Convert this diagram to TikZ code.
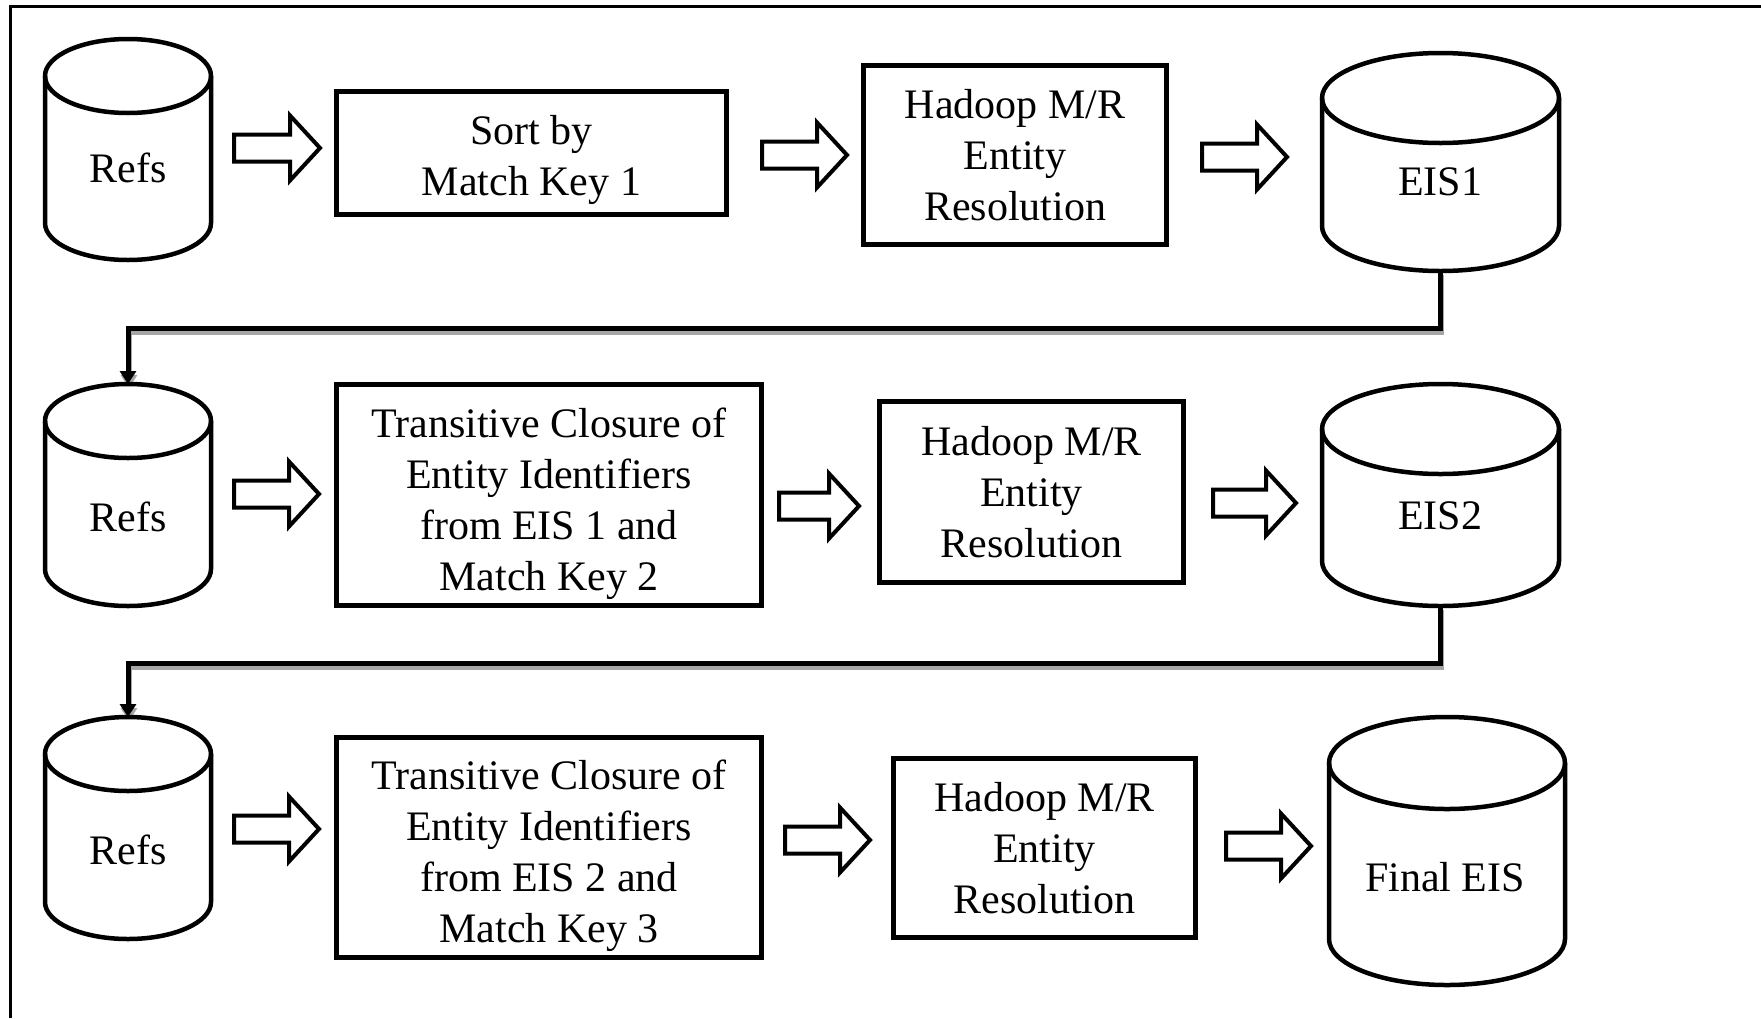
\documentclass[tikz,border=0pt]{standalone}
\usepackage{fontspec}
\setmainfont{Liberation Serif}
\usetikzlibrary{calc,arrows.meta}

% cylinder outline around a (text-less) node: node name, x radius, y radius
\newcommand\drawcyl[3]{%
  \draw[cylline]
    ($(#1.north west)+(0pt,-#3pt)$) -- ($(#1.south west)+(0pt,#3pt)$)
    arc[start angle=180,end angle=360,x radius=#2pt,y radius=#3pt]
    -- ($(#1.north east)+(0pt,-#3pt)$)
    arc[start angle=0,end angle=180,x radius=#2pt,y radius=#3pt] -- cycle;
  \draw[cylline,fill=none] ($(#1.north west)+(0pt,-#3pt)$)
    arc[start angle=180,end angle=360,x radius=#2pt,y radius=#3pt];
}

% hollow block arrow: tail x, tip x, centre y
\newcommand\blockarrow[3]{%
  \draw[fatarrow] (#1,{#3-13.5}) -- ({#2-30},{#3-13.5}) -- ({#2-30},{#3-32.5})
    -- (#2,#3) -- ({#2-30},{#3+32.5}) -- ({#2-30},{#3+13.5}) -- (#1,{#3+13.5}) -- cycle;
}

\begin{document}
\begin{tikzpicture}[x=1pt,y=1pt,
  txt/.style={font=\fontsize{42}{51}\selectfont},
  procbox/.style={draw,line width=5pt,fill=white,inner sep=0pt,align=center,txt},
  boxtext/.style={txt,align=center,inner sep=0pt},
  cylbody/.style={inner sep=0pt,outer sep=0pt},
  cylline/.style={draw,line width=4.5pt,fill=white,line join=round},
  cyltext/.style={txt,inner sep=0pt},
  fatarrow/.style={draw,line width=4pt,fill=white,line join=miter},
  link/.style={line width=5pt,-{Triangle[width=16pt,length=13pt]}},
  linkshadow/.style={link,draw=black!35},
  frameline/.style={line width=2.5pt}
]
\useasboundingbox (0,0) rectangle (1761,-1018);

% outer frame (top and left edges)
\draw[frameline] (1761,-6.5) -- (10.5,-6.5) -- (10.5,-1018);

% storage nodes
\node[cylbody,minimum width=166,minimum height=221] (r1) at (128,-149.5) {};
\node[cylbody,minimum width=166,minimum height=222] (r2) at (128,-495) {};
\node[cylbody,minimum width=166,minimum height=222] (r3) at (128,-828) {};
\node[cylbody,minimum width=237,minimum height=218] (e1) at (1440.5,-162) {};
\node[cylbody,minimum width=237,minimum height=222] (e2) at (1440.5,-495) {};
\node[cylbody,minimum width=236,minimum height=268] (e3) at (1447,-851) {};

% row-to-row links
\coordinate (k1) at (0,-328.5);
\coordinate (k2) at (0,-663);
\begin{scope}[transform canvas={xshift=1pt,yshift=-4pt}]
  \draw[linkshadow] (e1.south) -- (e1.south |- k1) -- (r2.north |- k1) -- (r2.north);
  \draw[linkshadow] (e2.south) -- (e2.south |- k2) -- (r3.north |- k2) -- (r3.north);
\end{scope}
\draw[link] (e1.south) -- (e1.south |- k1) -- (r2.north |- k1) -- (r2.north);
\draw[link] (e2.south) -- (e2.south |- k2) -- (r3.north |- k2) -- (r3.north);

% cylinders
\drawcyl{r1}{83}{37}
\drawcyl{r2}{83}{37}
\drawcyl{r3}{83}{37}
\drawcyl{e1}{118.5}{45}
\drawcyl{e2}{118.5}{45}
\drawcyl{e3}{118}{46}

\node[cyltext] (r1t) at (128,-168) {Refs};
\node[cyltext] (r2t) at (128,-517) {Refs};
\node[cyltext] (r3t) at (128,-850) {Refs};
\node[cyltext] (e1t) at (1440,-182) {EIS1};
\node[cyltext] (e2t) at (1440,-516) {EIS2};
\node[cyltext] (e3t) at (1445,-877) {Final EIS};

% process boxes
\node[procbox,minimum width=390,minimum height=123] (b1) at (531.5,-153) {};
\node[boxtext] (b1t) at ([yshift=-7pt]b1.center) {Sort by\\Match Key 1};
\node[procbox,minimum width=303,minimum height=179] (b2) at (1015,-155) {Hadoop M/R\\Entity\\Resolution};
\node[procbox,minimum width=425,minimum height=221] (c1) at (549,-495) {};
\node[boxtext] (c1t) at ([yshift=-9pt]c1.center) {Transitive Closure of\\Entity Identifiers\\from EIS 1 and\\Match Key 2};
\node[procbox,minimum width=304,minimum height=181] (c2) at (1031.5,-492) {Hadoop M/R\\Entity\\Resolution};
\node[procbox,minimum width=425,minimum height=220] (d1) at (549,-847.5) {};
\node[boxtext] (d1t) at ([yshift=-8pt]d1.center) {Transitive Closure of\\Entity Identifiers\\from EIS 2 and\\Match Key 3};
\node[procbox,minimum width=302,minimum height=179] (d2) at (1044.5,-848) {Hadoop M/R\\Entity\\Resolution};

% flow arrows
\blockarrow{234}{320}{-148}
\blockarrow{762}{847}{-155}
\blockarrow{1202}{1287}{-157}
\blockarrow{234}{319}{-494}
\blockarrow{779}{859}{-506}
\blockarrow{1213}{1296}{-503}
\blockarrow{234}{319}{-829}
\blockarrow{785}{870}{-840}
\blockarrow{1226}{1311}{-846}
\end{tikzpicture}
\end{document}
